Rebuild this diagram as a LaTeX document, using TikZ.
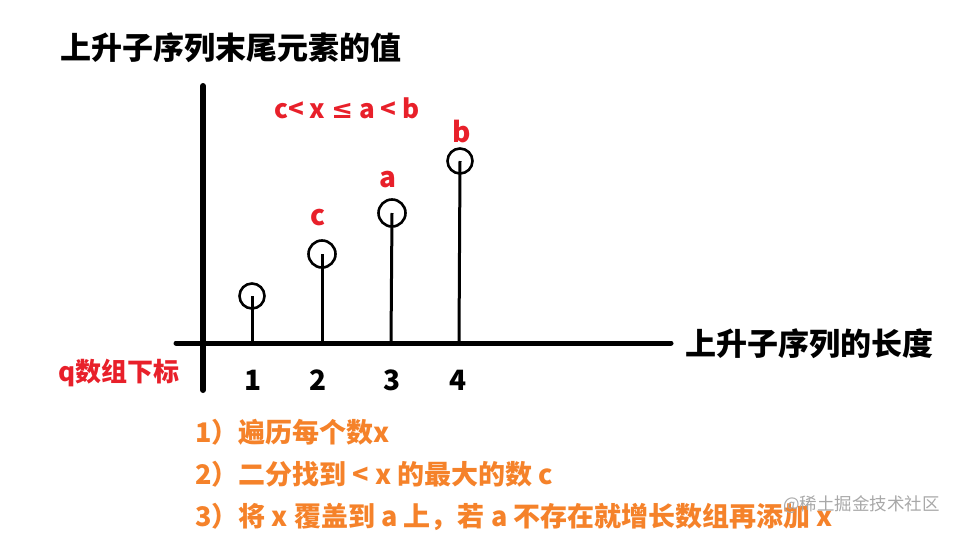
\documentclass[tikz,border=0pt]{standalone}
\usepackage{fontspec}
\setmainfont{Noto Sans CJK SC}
\newfontfamily\symfont{DejaVu Sans}
\definecolor{lred}{HTML}{E8202A}
\definecolor{lorange}{HTML}{F5822A}
\definecolor{wmgray}{HTML}{A8A8A8}
\begin{document}
\begin{tikzpicture}[x=1pt,y=-1pt,
  axis/.style={line width=6pt,line cap=round},
  stem/.style={line width=3pt},
  dot/.style={circle,draw,line width=2.6pt,minimum size=25pt,inner sep=0pt},
  title/.style={font=\fontsize{31}{35}\selectfont\bfseries,anchor=west,inner sep=0pt},
  redlab/.style={font=\fontsize{28}{32}\selectfont\bfseries,text=lred,inner sep=0pt},
  num/.style={font=\fontsize{28}{32}\selectfont\bfseries,inner sep=0pt},
  stepline/.style={font=\fontsize{27}{31}\selectfont\bfseries,text=lorange,anchor=west,inner sep=0pt}]
\useasboundingbox (0,0) rectangle (959,533);
% axes
\coordinate (vtop) at (203,86);
\coordinate (vbot) at (203,390);
\coordinate (hl) at (176,343);
\coordinate (hr) at (671,343);
\draw[axis] (vtop) -- (vbot);
\draw[axis,line width=5pt] (hl) -- (hr);
% stems and circles
\node[dot] (p1) at (252,296) {};
\node[dot,minimum size=27pt] (p2) at (322,254) {};
\node[dot,minimum size=27pt] (p3) at (392,213) {};
\node[dot] (p4) at (460,161) {};
\coordinate (f1) at (252,343);
\coordinate (f2) at (322,343);
\coordinate (f3) at (391,343);
\coordinate (f4) at (459,343);
\draw[stem] (p1.center) -- (f1);
\draw[stem] (p2.center) -- (f2);
\draw[stem] (p3.center) -- (f3);
\draw[stem] (p4.center) -- (f4);
% labels over points
\node[redlab] (lc) at (318,218) {c};
\node[redlab] (la) at (388,180) {a};
\node[redlab] (lb) at (462,132) {b};
\node[redlab,font=\fontsize{26}{30}\selectfont\bfseries,anchor=west] (rel) at (274,108) {c< x {\symfont\bfseries ≤} a < b};
% titles
\node[title] (ty) at (60,48) {上升子序列末尾元素的值};
\node[title] (tx) at (685,344) {上升子序列的长度};
\node[redlab,font=\fontsize{26}{30}\selectfont\bfseries,anchor=west] (tq) at (58,373) {q数组下标};
% numbers
\node[num] (n1) at (253,380) {1};
\node[num] (n2) at (318,380) {2};
\node[num] (n3) at (392,380) {3};
\node[num] (n4) at (458,380) {4};
% steps
\node[stepline] (s1) at (195,432) {1）遍历每个数x};
\node[stepline] (s2) at (195,474) {2）二分找到 < x 的最大的数 c};
\node[stepline] (s3) at (195,517) {3）将 x 覆盖到 a 上，若 a 不存在就增长数组再添加 x};
% watermark
\node[font=\fontsize{17.5}{20}\selectfont,text=wmgray,anchor=west,inner sep=0pt] (wm) at (783,505) {@稀土掘金技术社区};
\end{tikzpicture}
\end{document}
